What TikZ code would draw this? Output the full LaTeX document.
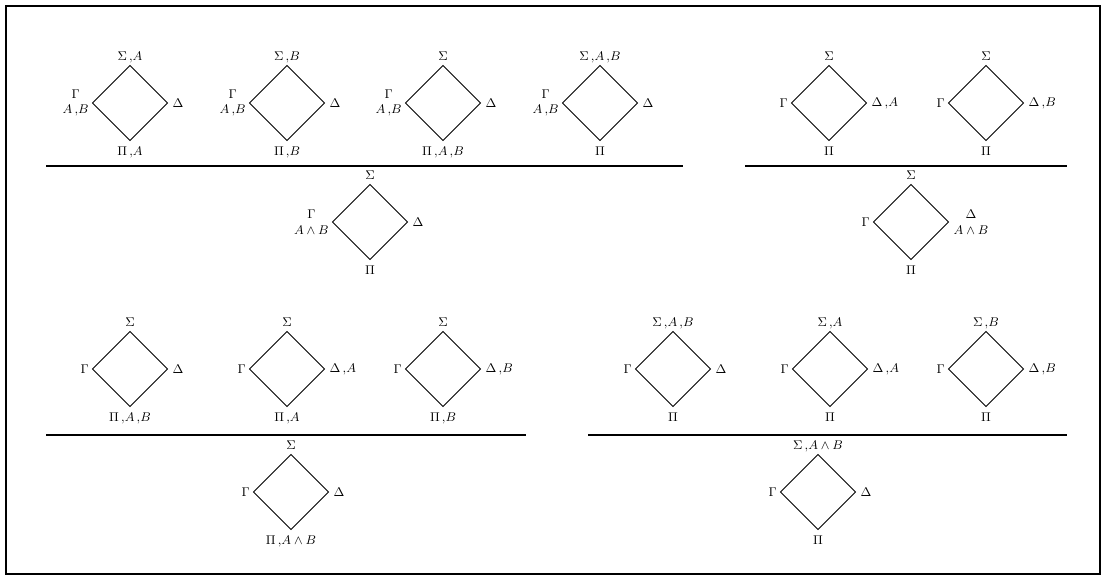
\documentclass[tikz,border=0pt]{standalone}
\usepackage{amsmath}
\usepackage{tikz}

\tikzset{
    toplbl/.style={anchor=base, yshift=3.5pt},
    botlbl/.style={anchor=base, yshift=-10.8pt},
    leftlbl/.style={anchor=east, inner sep=2.5pt, align=center},
    rightlbl/.style={anchor=west, inner sep=3.5pt, align=center},
    rule/.style={line width=2pt}
}

% one sequent square: name, centre, top, left, right, bottom
\newcommand{\seqsq}[6]{%
    \path (#2) +(0,0.9375) coordinate (#1t) +(-0.9375,0) coordinate (#1l)
               +(0.9375,0) coordinate (#1r) +(0,-0.9375) coordinate (#1b);
    \draw[line width=0.6pt] (#1t) -- (#1r) -- (#1b) -- (#1l) -- cycle;
    \node[toplbl] (#1nt) at (#1t) {#3};
    \node[leftlbl] (#1nl) at (#1l) {#4};
    \node[rightlbl] (#1nr) at (#1r) {#5};
    \node[botlbl] (#1nb) at (#1b) {#6};
}

\begin{document}
\begin{tikzpicture}[every node/.style={font=\small}]
    \useasboundingbox (0,0) rectangle (27.525,14.4);
    \draw[line width=1.4pt] (0.14,0.06) rectangle (27.49,14.26);

    % upper left rule
    \seqsq{a}{3.25,11.825}{$\Sigma\,{,}A$}{$\Gamma$\\$A\,{,}B$}{$\Delta$}{$\Pi\,{,}A$}
    \seqsq{b}{7.175,11.825}{$\Sigma\,{,}B$}{$\Gamma$\\$A\,{,}B$}{$\Delta$}{$\Pi\,{,}B$}
    \seqsq{c}{11.075,11.825}{$\Sigma$}{$\Gamma$\\$A\,{,}B$}{$\Delta$}{$\Pi\,{,}A\,{,}B$}
    \seqsq{d}{15.0,11.825}{$\Sigma\,{,}A\,{,}B$}{$\Gamma$\\$A\,{,}B$}{$\Delta$}{$\Pi$}
    \coordinate (r1a) at (1.15,10.25);
    \coordinate (r1b) at (17.075,10.25);
    \draw[rule] (r1a) -- (r1b);
    \seqsq{g}{9.25,8.85}{$\Sigma$}{$\Gamma$\\$A \wedge B$}{$\Delta$}{$\Pi$}

    % upper right rule
    \seqsq{e}{20.725,11.825}{$\Sigma$}{$\Gamma$}{$\Delta\,{,}A$}{$\Pi$}
    \seqsq{f}{24.65,11.825}{$\Sigma$}{$\Gamma$}{$\Delta\,{,}B$}{$\Pi$}
    \coordinate (r2a) at (18.625,10.25);
    \coordinate (r2b) at (26.675,10.25);
    \draw[rule] (r2a) -- (r2b);
    \seqsq{h}{22.775,8.85}{$\Sigma$}{$\Gamma$}{$\Delta$\\$A \wedge B$}{$\Pi$}

    % lower left rule
    \seqsq{i}{3.25,5.175}{$\Sigma$}{$\Gamma$}{$\Delta$}{$\Pi\,{,}A\,{,}B$}
    \seqsq{j}{7.175,5.175}{$\Sigma$}{$\Gamma$}{$\Delta\,{,}A$}{$\Pi\,{,}A$}
    \seqsq{k}{11.075,5.175}{$\Sigma$}{$\Gamma$}{$\Delta\,{,}B$}{$\Pi\,{,}B$}
    \coordinate (r3a) at (1.15,3.525);
    \coordinate (r3b) at (13.15,3.525);
    \draw[rule] (r3a) -- (r3b);
    \seqsq{o}{7.275,2.1}{$\Sigma$}{$\Gamma$}{$\Delta$}{$\Pi\,{,}A \wedge B$}

    % lower right rule
    \seqsq{l}{16.825,5.175}{$\Sigma\,{,}A\,{,}B$}{$\Gamma$}{$\Delta$}{$\Pi$}
    \seqsq{m}{20.75,5.175}{$\Sigma\,{,}A$}{$\Gamma$}{$\Delta\,{,}A$}{$\Pi$}
    \seqsq{n}{24.65,5.175}{$\Sigma\,{,}B$}{$\Gamma$}{$\Delta\,{,}B$}{$\Pi$}
    \coordinate (r4a) at (14.7,3.525);
    \coordinate (r4b) at (26.675,3.525);
    \draw[rule] (r4a) -- (r4b);
    \seqsq{p}{20.45,2.1}{$\Sigma\,{,}A \wedge B$}{$\Gamma$}{$\Delta$}{$\Pi$}
\end{tikzpicture}
\end{document}
